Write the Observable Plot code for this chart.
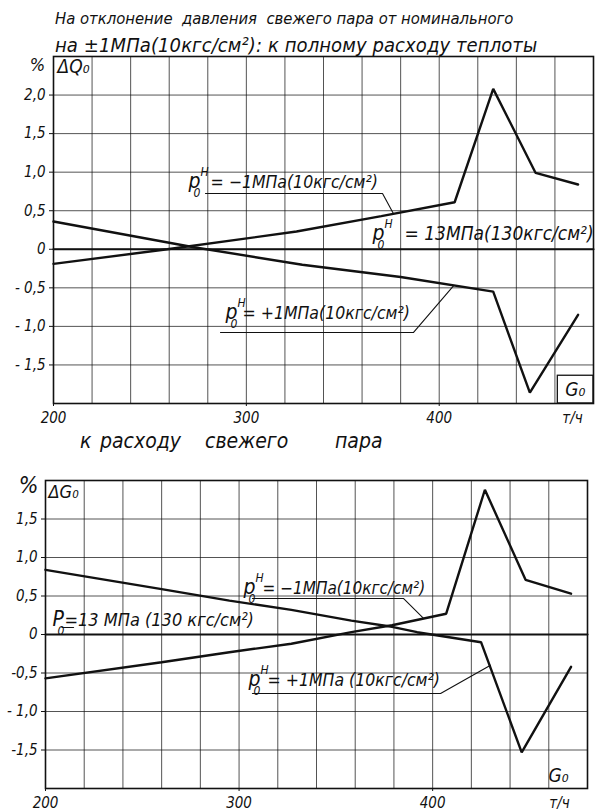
<!DOCTYPE html>
<html>
<head>
<meta charset="utf-8">
<script src="https://cdn.jsdelivr.net/npm/d3@7"></script>
<script src="https://cdn.jsdelivr.net/npm/@observablehq/plot@0.6"></script>
<style>
  html, body { margin: 0; padding: 0; background: #fff; }
  #page { position: relative; width: 597px; height: 811px; overflow: hidden; background: #fff;
          font-family: 'Liberation Sans Narrow','DejaVu Sans Condensed','Liberation Sans',sans-serif; font-style: italic; color: #111; }
  .ttl { position: absolute; white-space: pre; line-height: 1; font-style: italic; }
  #top, #bot { position: absolute; left: 0; }
  #top { top: 48px; }
  #bot { top: 465px; }
</style>
</head>
<body>
<div id="page">
  <div class="ttl" id="t1" style="left:55px; top:11px; font-size:16.5px;">На отклонение  давления  свежего пара от номинального</div>
  <div class="ttl" id="t2" style="left:55px; top:35px; font-size:20px; letter-spacing:0.1px;">на ±1МПа(10кгс/см²): к полному расходу теплоты</div>
  <div class="ttl" style="left:80px; top:431px; font-size:21px;">к</div>
  <div class="ttl" style="left:100px; top:431px; font-size:21px;">расходу</div>
  <div class="ttl" style="left:205px; top:431px; font-size:21px;">свежего</div>
  <div class="ttl" style="left:335px; top:431px; font-size:21px;">пара</div>
  <div id="top"></div>
  <div id="bot"></div>
</div>
<script>
// ---------- data: top chart (ΔQ0, % vs G0, т/ч) ----------
const topMinusX = [200, 259, 326, 370, 408, 428, 450, 472];
const topMinusY = [-0.19, 0.0, 0.23, 0.43, 0.61, 2.08, 0.99, 0.84];
const topPlusX  = [200, 272, 329, 380, 428, 447, 472];
const topPlusY  = [0.36, 0.03, -0.20, -0.36, -0.55, -1.86, -0.85];
const topBaseX  = [200, 480];
const topBaseY  = [0, 0];

// ---------- data: bottom chart (ΔG0, % vs G0, т/ч) ----------
const botMinusX = [200, 260, 295, 327, 358, 379, 407, 427, 448, 471.5];
const botMinusY = [-0.57, -0.36, -0.23, -0.12, 0.03, 0.12, 0.27, 1.88, 0.71, 0.53];
const botPlusX  = [200, 260, 295, 327, 358, 379, 392, 425, 446, 471.5];
const botPlusY  = [0.84, 0.59, 0.44, 0.32, 0.18, 0.10, 0.03, -0.10, -1.53, -0.42];
const botBaseX  = [200, 480];
const botBaseY  = [0, 0];

// ---------- ticks ----------
const xTickVals   = [200, 300, 400];
const xTickLabels = ["200", "300", "400"];
const xGrid       = [220, 240, 260, 280, 300, 320, 340, 360, 380, 400, 420, 440, 460];
const topYTicks   = [2, 1.5, 1, 0.5, 0, -0.5, -1, -1.5];
const topYLabels  = ["2,0", "1,5", "1,0", "0,5", "0", "- 0,5", "- 1,0", "- 1,5"];
const botYTicks   = [1.5, 1, 0.5, 0, -0.5, -1, -1.5];
const botYLabels  = ["1,5", "1,0", "0,5", "0", "-0,5", "- 1,0", "-1,5"];

// ---------- annotation texts & anchors (data units) ----------
const topLabelText = ["= −1МПа(10кгс/см²)", "= 13МПа(130кгс/см²)", "= +1МПа(10кгс/см²)"];
const topLabelX    = [270, 365.4, 289.2];
const topLabelY    = [0.80, 0.114, -0.90];
const topLabelGap  = [22, 32, 17];
const topLabelSize = [17.5, 19, 17.5];
const botLabelText = ["=13 МПа (130 кгс/см²)", "= −1МПа(10кгс/см²)", "= +1МПа (10кгс/см²)"];
const botLabelX    = [203.6, 302.3, 304.9];
const botLabelY    = [0.104, 0.53, -0.675];
const botLabelGap  = [12, 19, 19];
const botLabelSize = [18, 17, 17.5];
const botLabelCap  = ["P", "p", "p"];
// underline + leader polylines
const topLeaders = [
  {x: [278.8, 370.6, 376.3], y: [0.724, 0.724, 0.46]},
  {x: [286.6, 386.7, 407.5], y: [-1.079, -1.079, -0.47]}
];
const botLeaders = [
  {x: [306.9, 384.9, 395.3], y: [0.468, 0.468, 0.21]},
  {x: [306.9, 404.1, 429.9], y: [-0.766, -0.766, -0.40]},
  {x: [208.5, 214.5], y: [0.09, 0.09]}
];

const FONT = "'Liberation Sans Narrow','DejaVu Sans Condensed','Liberation Sans',sans-serif";
const INK = "#111";
const zipXY = (xs, ys) => xs.map((x, i) => ({x, y: ys[i]}));

function labelMarks(xs, ys, texts, gaps, sizes, caps) {
  const marks = [];
  xs.forEach((x, i) => {
    const d = [{x, y: ys[i]}];
    const common = {x: "x", y: "y", textAnchor: "start", lineAnchor: "bottom", fill: INK, fontStyle: "italic"};
    marks.push(Plot.text(d, {...common, text: () => caps[i], fontSize: 21}));
    if (caps[i] === "p") marks.push(Plot.text(d, {...common, text: () => "H", fontSize: 12, dx: 12, dy: -12}));
    marks.push(Plot.text(d, {...common, text: () => "0", fontSize: 12, dx: 5, dy: 9}));
    marks.push(Plot.text(d, {...common, text: () => texts[i], fontSize: sizes[i], dx: gaps[i]}));
  });
  return marks;
}

const gridStyle = {stroke: INK, strokeOpacity: 0.8, strokeWidth: 0.9};
const curveStyle = {x: "x", y: "y", stroke: INK, strokeWidth: 2.4, strokeLinejoin: "miter"};

function chart({width, height, margins, yDomain, yTicks, yLabels, series, base, labels, leaders, corner, boxG}) {
  const yMap = new Map(yTicks.map((t, i) => [t, yLabels[i]]));
  const xMap = new Map(xTickVals.map((t, i) => [t, xTickLabels[i]]));
  return Plot.plot({
    width, height, ...margins,
    x: {domain: [200, 480], label: null},
    y: {domain: yDomain, label: null},
    style: {fontFamily: FONT, fontStyle: "italic", fontSize: "15px", color: INK, background: "transparent"},
    marks: [
      Plot.gridX(xGrid, gridStyle),
      Plot.gridY(yTicks, gridStyle),
      Plot.frame({stroke: INK, strokeWidth: 1.6}),
      Plot.axisX(xTickVals, {tickSize: 3, tickPadding: 6, tickFormat: d => xMap.get(d), label: null, fontSize: 15, fontStyle: "italic"}),
      Plot.axisY(yTicks, {tickSize: 4, tickPadding: 4, tickFormat: d => yMap.get(d), label: null, fontSize: 15, fontStyle: "italic"}),
      Plot.line(zipXY(base[0], base[1]), {...curveStyle, strokeWidth: 2.1}),
      ...series.map(s => Plot.line(zipXY(s[0], s[1]), curveStyle)),
      ...leaders.map(l => Plot.line(zipXY(l.x, l.y), {x: "x", y: "y", stroke: INK, strokeWidth: 1.1})),
      ...labels,
      ...corner,
      ...boxG
    ]
  });
}

// ---------- top chart ----------
const topChart = chart({
  width: 597, height: 385,
  margins: {marginLeft: 53, marginRight: 4, marginTop: 8, marginBottom: 30},
  yDomain: [-2, 2.5], yTicks: topYTicks, yLabels: topYLabels,
  series: [[topMinusX, topMinusY], [topPlusX, topPlusY]],
  base: [topBaseX, topBaseY],
  labels: labelMarks(topLabelX, topLabelY, topLabelText, topLabelGap, topLabelSize, ["p", "p", "p"]),
  leaders: topLeaders,
  corner: [
    Plot.text([{x: 200, y: 2.5}], {x: "x", y: "y", text: () => "%", fontSize: 18, dx: -16, dy: 9, fill: INK}),
    Plot.text([{x: 200, y: 2.5}], {x: "x", y: "y", text: () => "ΔQ₀", fontSize: 19, dx: 4, dy: 10, textAnchor: "start", fill: INK, fontStyle: "italic"}),
    Plot.text([{x: 480, y: -2}], {x: "x", y: "y", text: () => "т/ч", fontSize: 15, dx: -21, dy: 15, fill: INK, fontStyle: "italic"})
  ],
  boxG: [
    Plot.rect([{x1: 461.5, x2: 480, y1: -2, y2: -1.64}], {x1: "x1", x2: "x2", y1: "y1", y2: "y2", fill: "none", stroke: INK, strokeWidth: 1.3}),
    Plot.text([{x: 470.5, y: -1.82}], {x: "x", y: "y", text: () => "G₀", fontSize: 19, fill: INK, fontStyle: "italic"})
  ]
});
document.getElementById("top").appendChild(topChart);

// ---------- bottom chart ----------
const botChart = chart({
  width: 597, height: 346,
  margins: {marginLeft: 45, marginRight: 10, marginTop: 15, marginBottom: 23},
  yDomain: [-2, 2], yTicks: botYTicks, yLabels: botYLabels,
  series: [[botMinusX, botMinusY], [botPlusX, botPlusY]],
  base: [botBaseX, botBaseY],
  labels: labelMarks(botLabelX, botLabelY, botLabelText, botLabelGap, botLabelSize, botLabelCap),
  leaders: botLeaders,
  corner: [
    Plot.text([{x: 200, y: 2}], {x: "x", y: "y", text: () => "%", fontSize: 23, dx: -17, dy: 5, fill: INK, fontStyle: "italic"}),
    Plot.text([{x: 200, y: 2}], {x: "x", y: "y", text: () => "ΔG₀", fontSize: 18, dx: 3, dy: 12, textAnchor: "start", fill: INK, fontStyle: "italic"}),
    Plot.text([{x: 480, y: -2}], {x: "x", y: "y", text: () => "т/ч", fontSize: 15, dx: -28, dy: 15, fill: INK, fontStyle: "italic"})
  ],
  boxG: [
    Plot.text([{x: 465, y: -1.84}], {x: "x", y: "y", text: () => "G₀", fontSize: 19, fill: INK, fontStyle: "italic"})
  ]
});
document.getElementById("bot").appendChild(botChart);
</script>
</body>
</html>
